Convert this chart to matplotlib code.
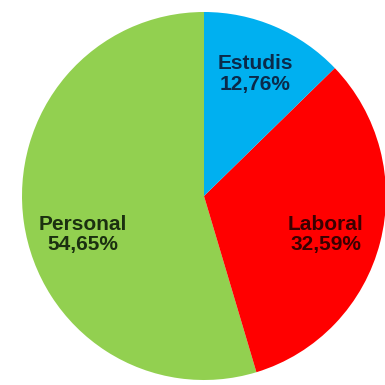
import numpy as np
import matplotlib.pyplot as plt

plt.rcParams['font.family'] = ['Liberation Sans', 'DejaVu Sans']

labels = ['Personal', 'Laboral', 'Estudis']
values = [54.65, 32.59, 12.76]
colors = ['#92D050', '#FF0000', '#00B0F0']
text_colors = ['#1b3010', '#3a0000', '#0b2a4a']

fig = plt.figure(figsize=(3.85, 3.85), dpi=100)
ax = fig.add_axes([0, 0, 1, 1])

names = iter(labels)
def fmt(p):
    return next(names) + '\n' + ('%.2f' % p).replace('.', ',') + '%'

wedges, texts, autotexts = ax.pie(values, colors=colors, startangle=90,
                                  autopct=fmt, pctdistance=0.72,
                                  wedgeprops=dict(linewidth=0),
                                  textprops=dict(fontsize=15, fontweight='bold'))
for t, c in zip(autotexts, text_colors):
    t.set_color(c)
    t.set_linespacing(1.1)

# labels placed like the original (best fit)
autotexts[0].set_position((0.70 * np.cos(np.radians(197.5)), 0.70 * np.sin(np.radians(197.5))))
autotexts[1].set_position((0.70 * np.cos(np.radians(-17.5)), 0.70 * np.sin(np.radians(-17.5))))

ax.set_aspect('auto')
ax.set_xlim(-204 / 182, 181 / 182)
ax.set_ylim(-189 / 184, 196 / 184)
ax.axis('off')

plt.savefig('out.png', dpi=100, facecolor='w')
